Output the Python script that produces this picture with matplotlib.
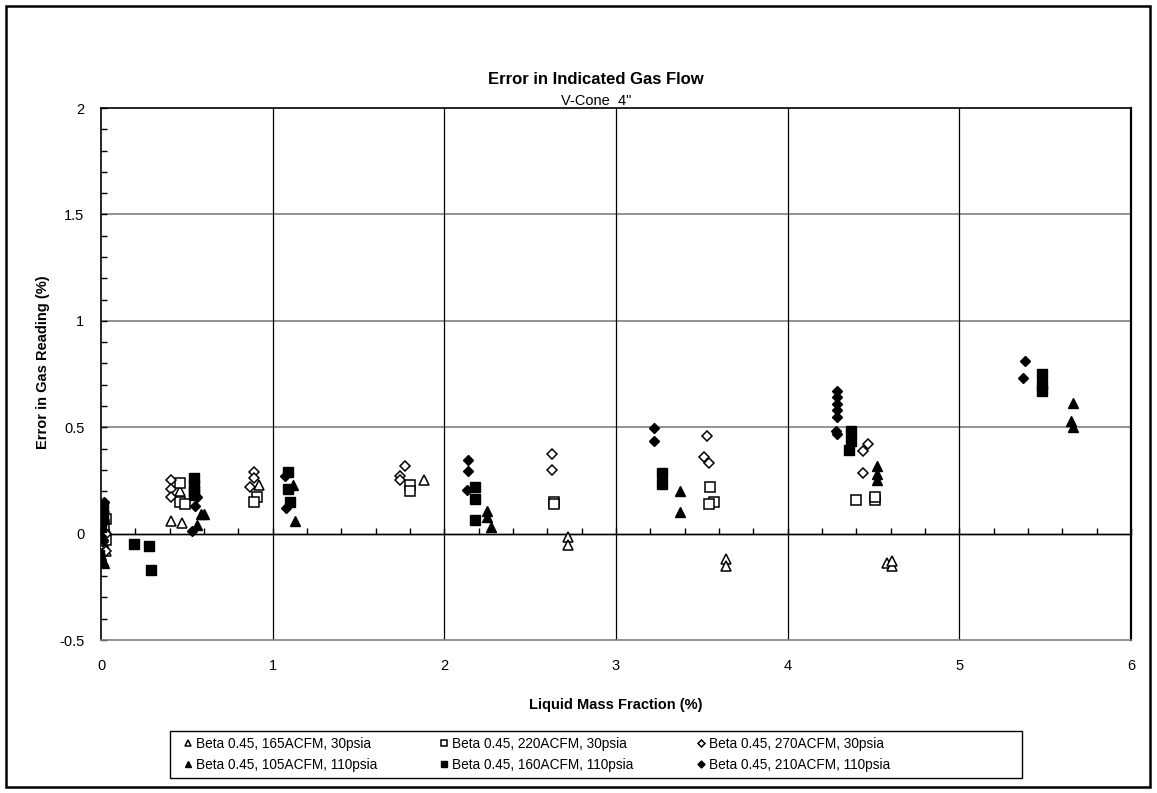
import numpy as np
import matplotlib
matplotlib.use('Agg')
import matplotlib.pyplot as plt
from matplotlib.patches import Rectangle

plt.rcParams['font.family'] = ['Liberation Sans', 'DejaVu Sans']

# Beta 0.45, 165ACFM, 30psia (open triangle)
x_t30 = [0.02, 0.03, 0.02, 0.03, 0.41, 0.47, 0.46, 0.92, 1.88, 2.72, 2.72, 3.64, 3.64, 4.58, 4.61, 4.61]
y_t30 = [-0.05, -0.08, -0.02, 0.02, 0.06, 0.05, 0.20, 0.23, 0.25, -0.015, -0.055, -0.12, -0.15, -0.14, -0.15, -0.13]
# Beta 0.45, 220ACFM, 30psia (open square)
x_s30 = [0.03, 0.02, 0.03, 0.46, 0.46, 0.49, 0.91, 0.89, 1.80, 1.80, 2.64, 2.64, 3.55, 3.57, 3.54, 4.40, 4.51, 4.51]
y_s30 = [0.07, 0.04, -0.03, 0.24, 0.15, 0.14, 0.17, 0.15, 0.23, 0.20, 0.15, 0.14, 0.22, 0.15, 0.14, 0.16, 0.16, 0.17]
# Beta 0.45, 270ACFM, 30psia (open diamond)
x_d30 = [0.02, 0.03, 0.01, 0.03, 0.41, 0.41, 0.41, 0.89, 0.89, 0.87, 1.77, 1.74, 1.74, 2.63, 2.63, 3.53, 3.51, 3.54, 4.47, 4.44, 4.44]
y_d30 = [0.10, 0.00, -0.04, -0.08, 0.25, 0.21, 0.17, 0.29, 0.26, 0.22, 0.32, 0.27, 0.25, 0.375, 0.30, 0.46, 0.36, 0.33, 0.42, 0.39, 0.285]
# Beta 0.45, 105ACFM, 110psia (filled triangle)
x_t110 = [0.01, 0.02, 0.00, 0.56, 0.58, 0.60, 1.12, 1.13, 2.25, 2.25, 2.27, 3.37, 3.37, 4.52, 4.52, 4.52, 5.66, 5.65, 5.66]
y_t110 = [-0.13, -0.14, -0.10, 0.04, 0.09, 0.09, 0.23, 0.06, 0.105, 0.08, 0.03, 0.20, 0.10, 0.32, 0.28, 0.25, 0.615, 0.53, 0.50]
# Beta 0.45, 160ACFM, 110psia (filled square)
x_s110 = [-0.01, 0.01, 0.01, 0.00, 0.19, 0.28, 0.29, 0.54, 0.54, 0.54, 0.54, 1.09, 1.09, 1.10, 2.18, 2.18, 2.18, 3.27, 3.27, 4.37, 4.37, 4.36, 5.48, 5.48, 5.48]
y_s110 = [-0.10, 0.13, 0.08, 0.03, -0.05, -0.06, -0.17, 0.26, 0.23, 0.20, 0.18, 0.29, 0.21, 0.15, 0.22, 0.165, 0.065, 0.285, 0.235, 0.48, 0.435, 0.395, 0.75, 0.70, 0.67]
# Beta 0.45, 210ACFM, 110psia (filled diamond)
x_d110 = [0.02, 0.00, 0.01, 0.00, 0.01, 0.56, 0.55, 0.53, 1.07, 1.08, 2.14, 2.14, 2.13, 3.22, 3.22, 4.29, 4.29, 4.29, 4.29, 4.29, 4.28, 4.29, 5.38, 5.37]
y_d110 = [0.15, 0.10, 0.05, -0.01, -0.03, 0.17, 0.13, 0.01, 0.27, 0.12, 0.345, 0.295, 0.205, 0.495, 0.435, 0.67, 0.64, 0.61, 0.58, 0.55, 0.48, 0.47, 0.81, 0.73]

labels = ['Beta 0.45, 165ACFM, 30psia', 'Beta 0.45, 220ACFM, 30psia',
          'Beta 0.45, 270ACFM, 30psia', 'Beta 0.45, 105ACFM, 110psia',
          'Beta 0.45, 160ACFM, 110psia', 'Beta 0.45, 210ACFM, 110psia']

fig = plt.figure(figsize=(11.57, 7.93), dpi=100)
ax = fig.add_axes([0.0873, 0.1929, 0.8902, 0.6709])

# horizontal gridlines gray, vertical black
for yv in [0.5, 1, 1.5]:
    ax.axhline(yv, color='#808080', lw=1.2, zorder=1)
for xv in [1, 2, 3, 4, 5]:
    ax.axvline(xv, color='black', lw=0.9, zorder=1)
ax.axhline(0, color='black', lw=1.0, zorder=1)

open_kw = dict(ls='none', mfc='white', mec='black', mew=1.1, zorder=3)
fill_kw = dict(ls='none', mfc='black', mec='black', mew=1.0, zorder=3)

h1, = ax.plot(x_t30, y_t30, marker='^', ms=7, **open_kw)
h2, = ax.plot(x_s30, y_s30, marker='s', ms=7, **open_kw)
h3, = ax.plot(x_d30, y_d30, marker='D', ms=5.5, **open_kw)
h4, = ax.plot(x_t110, y_t110, marker='^', ms=7, **fill_kw)
h5, = ax.plot(x_s110, y_s110, marker='s', ms=7, **fill_kw)
h6, = ax.plot(x_d110, y_d110, marker='D', ms=5.5, **fill_kw)

ax.set_xlim(0, 6)
ax.set_ylim(-0.5, 2)
ax.set_xticks([0, 1, 2, 3, 4, 5, 6])
ax.set_xticklabels(['0', '1', '2', '3', '4', '5', '6'])
ax.set_yticks([-0.5, 0, 0.5, 1, 1.5, 2])
ax.set_yticklabels(['-0.5', '0', '0.5', '1', '1.5', '2'])
ax.set_yticks(np.arange(-0.5, 2.01, 0.1), minor=True)
ax.tick_params(axis='x', length=0, labelsize=10.5, pad=14)
ax.tick_params(axis='y', which='both', direction='in', length=4, width=1,
               labelsize=10.5, pad=12)

ax.spines['left'].set_linewidth(1.2)
ax.spines['top'].set_linewidth(1.2)
ax.spines['right'].set_linewidth(1.6)
ax.spines['bottom'].set_color('#808080')
ax.spines['bottom'].set_linewidth(1.2)

# x axis line crosses at y = 0 with inward minor ticks
sec = ax.secondary_xaxis(0.2)
sec.set_xticks(np.arange(0, 6.01, 1))
sec.set_xticks(np.arange(0, 6.01, 0.2), minor=True)
sec.tick_params(which='both', direction='in', length=4, width=1, labelbottom=False)
sec.spines['bottom'].set_linewidth(1.0)

ax.set_xlabel('Liquid Mass Fraction (%)', fontsize=10.5, fontweight='bold', labelpad=18)
ax.set_ylabel('Error in Gas Reading (%)', fontsize=10.5, fontweight='bold')
ax.yaxis.set_label_coords(-0.050, 0.522)

fig.text(0.515, 0.9, 'Error in Indicated Gas Flow', ha='center', va='center',
         fontsize=12, fontweight='bold')
fig.text(0.515, 0.873, 'V-Cone  4"', ha='center', va='center', fontsize=10.5)

leg = fig.legend([h1, h4, h2, h5, h3, h6],
                 [labels[0], labels[3], labels[1], labels[4], labels[2], labels[5]],
                 ncol=3, loc='center left', bbox_to_anchor=(0.159, 0.0486),
                 frameon=False, fontsize=9.8,
                 handlelength=0.6, handletextpad=0.3, columnspacing=4.6,
                 borderpad=0, borderaxespad=0, labelspacing=0.5, markerscale=0.65)

# legend box, sized like the original
fig.patches.append(Rectangle((170 / 1157, 1 - 778 / 793), 852 / 1157, 47 / 793,
                             transform=fig.transFigure, fill=False,
                             edgecolor='black', lw=1.0))

fig.patches.append(Rectangle((0.005, 0.008), 0.989, 0.985, transform=fig.transFigure,
                             fill=False, edgecolor='black', lw=1.8))

fig.savefig('out.png', dpi=100)
